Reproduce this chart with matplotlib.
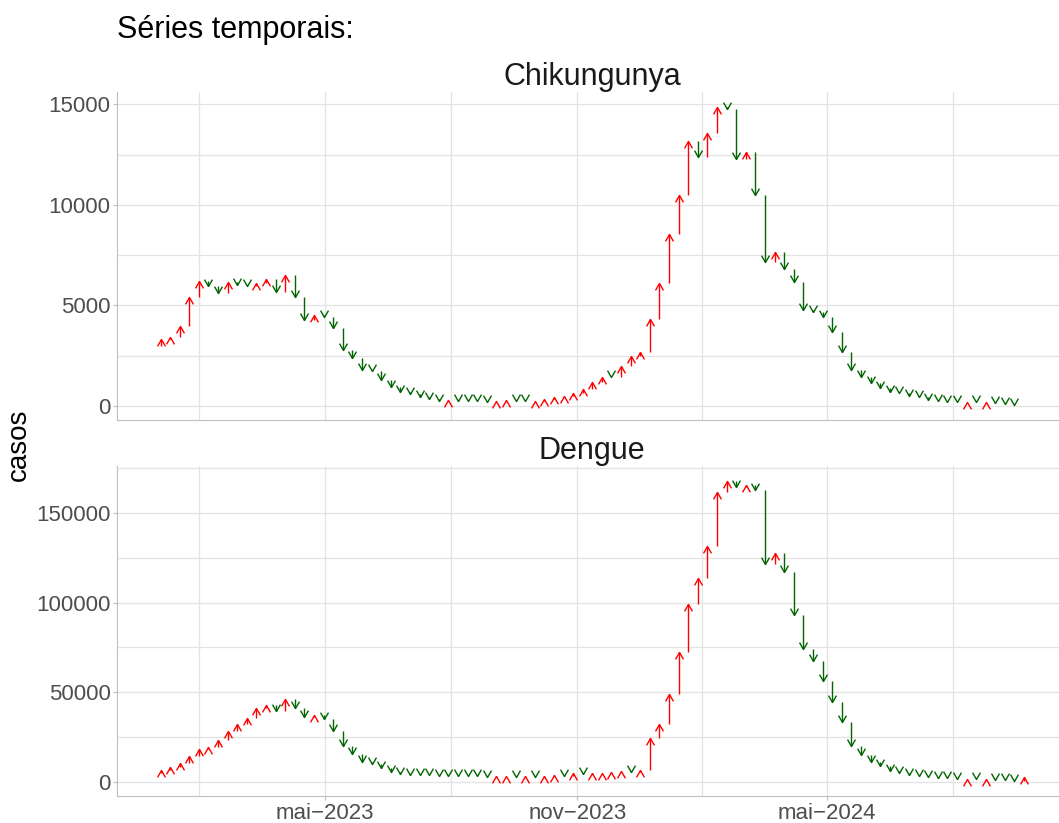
import numpy as np
import matplotlib
matplotlib.use("Agg")
import matplotlib.pyplot as plt
import matplotlib.dates as mdates
from matplotlib.path import Path

plt.rcParams['font.family'] = ['Liberation Sans', 'DejaVu Sans']

# semana inicial (o 1o valor so serve de ponto de partida da 1a seta)
start = np.datetime64('2022-12-25')

# casos semanais, em milhares
chik = np.array([
    3.00, 3.31, 3.41, 4.00, 5.43, 6.21, 5.98, 5.62, 6.18, 6.00,
    5.95, 6.10, 6.32, 5.65, 6.54, 5.40, 4.30, 4.55, 4.44, 3.86,
    2.78, 2.37, 1.80, 1.75, 1.29, 0.93, 0.68, 0.60, 0.47, 0.33,
    0.26, 0.28, 0.26, 0.24, 0.23, 0.22, 0.25, 0.29, 0.26, 0.23,
    0.27, 0.33, 0.43, 0.50, 0.67, 0.83, 1.22, 1.47, 1.43, 2.00,
    2.50, 2.70, 4.34, 6.13, 8.53, 10.51, 13.16, 12.38, 13.58, 14.87,
    14.78, 12.30, 12.63, 10.47, 7.17, 7.67, 6.80, 6.18, 4.77, 4.69,
    4.44, 3.69, 2.70, 1.79, 1.46, 1.13, 0.88, 0.69, 0.66, 0.49,
    0.46, 0.30, 0.25, 0.21, 0.19, 0.21, 0.19, 0.20, 0.13, 0.08,
    0.05]) * 1000

dengue = np.array([
    5.0, 6.2, 8.4, 10.3, 14.4, 18.1, 19.1, 23.0, 28.0, 32.3,
    35.5, 41.1, 42.6, 39.3, 46.4, 41.1, 36.1, 37.4, 35.0, 28.0,
    19.6, 15.3, 11.2, 9.7, 7.5, 5.2, 4.1, 3.8, 3.6, 3.4,
    3.3, 3.2, 3.1, 3.0, 2.9, 2.8, 2.9, 3.0, 2.8, 2.9,
    2.8, 3.0, 3.4, 3.3, 4.5, 4.4, 4.7, 5.0, 5.3, 5.8,
    5.6, 6.3, 24.3, 32.3, 49.2, 72.3, 99.1, 113.8, 131.8, 161.7,
    168.0, 164.8, 165.8, 162.8, 121.5, 127.5, 117.2, 92.9, 74.2, 67.3,
    56.3, 44.3, 33.5, 19.6, 14.8, 11.2, 8.6, 6.1, 4.7, 3.5,
    2.9, 2.5, 2.2, 1.9, 1.4, 1.6, 1.2, 1.4, 1.1, 0.7,
    0.3, 2.6]) * 1000

panels = ['Chikungunya', 'Dengue']
series = [chik, dengue]
y_breaks = [[0, 5000, 10000, 15000], [0, 50000, 100000, 150000]]
x_breaks = ['2023-05-01', '2023-11-01', '2024-05-01']
x_labels = ['mai\u22122023', 'nov\u22122023', 'mai\u22122024']

RED = '#FF0000'
GREEN = '#006400'
GRID = '#E3E3E3'
AXIS = '#BEBEBE'
TXT = '#4D4D4D'

UP = Path([(-0.5, -0.866), (0, 0), (0.5, -0.866)],
          [Path.MOVETO, Path.LINETO, Path.LINETO])
DOWN = Path([(-0.5, 0.866), (0, 0), (0.5, 0.866)],
            [Path.MOVETO, Path.LINETO, Path.LINETO])


def weeks(n):
    return start + np.arange(n) * np.timedelta64(7, 'D')


def draw_arrows(ax, vals):
    d = weeks(len(vals))[1:]
    prev, cur = vals[:-1], vals[1:]
    up = cur >= prev
    cols = np.where(up, RED, GREEN)
    ax.vlines(d, prev, cur, colors=cols, lw=1.0, capstyle='butt')
    ax.plot(d[up], cur[up], ls='none', marker=UP, ms=9.9,
            mfc='none', mec=RED, mew=1.0)
    ax.plot(d[~up], cur[~up], ls='none', marker=DOWN, ms=9.9,
            mfc='none', mec=GREEN, mew=1.0)


fig = plt.figure(figsize=(10.59, 8.23), dpi=100)

# eixo x comum: datas das setas + 5% de cada lado (como o ggplot)
all_dates = np.concatenate([weeks(len(v))[1:] for v in series])
x0 = mdates.date2num(all_dates.min())
x1 = mdates.date2num(all_dates.max())
xpad = 0.05 * (x1 - x0)
xlim = (x0 - xpad, x1 + xpad)

xb = mdates.date2num(np.array(x_breaks, dtype='datetime64[D]'))
xb_ext = np.concatenate([[xb[0] - (xb[1] - xb[0])], xb, [xb[-1] + 184]])
x_minor = (xb_ext[:-1] + xb_ext[1:]) / 2

positions = [[0.1108, 0.4897, 0.8970, 0.3985],
             [0.1108, 0.0328, 0.8970, 0.4010]]

for k, (name, vals) in enumerate(zip(panels, series)):
    ax = fig.add_axes(positions[k])
    draw_arrows(ax, vals)

    yb = np.array(y_breaks[k])
    step = yb[1] - yb[0]
    ax.set_yticks(yb)
    ax.set_yticklabels([str(v) for v in yb])
    ax.set_yticks(np.arange(yb[0] - step / 2, yb[-1] + step, step), minor=True)
    ax.set_xticks(xb)
    ax.set_xticks(x_minor, minor=True)
    ax.set_xticklabels(x_labels)

    # limites depois dos ticks (set_ticks alarga a vista)
    ax.set_xlim(*xlim)
    lo, hi = vals.min(), vals.max()
    ypad = 0.05 * (hi - lo)
    ax.set_ylim(lo - ypad, hi + ypad)

    ax.grid(True, which='both', color=GRID, lw=0.9)
    ax.set_axisbelow(True)
    for s in ['top', 'right']:
        ax.spines[s].set_visible(False)
    for s in ['left', 'bottom']:
        ax.spines[s].set_color(AXIS)
        ax.spines[s].set_linewidth(0.8)

    ax.tick_params(which='minor', length=0)
    ax.tick_params(which='major', length=2.6, width=0.8, color=AXIS,
                   labelsize=16, labelcolor=TXT, pad=2.2)
    if k == 0:
        ax.tick_params(axis='x', which='major', length=0, labelbottom=False)

    ax.set_title(name, fontsize=22, color='#1A1A1A', pad=4.8)

fig.text(0.1108, 1 - 38 / 823, 'Séries temporais:', fontsize=22,
         ha='left', va='baseline')
fig.text(19 / 1059, 1 - 445 / 823, 'casos', fontsize=20, rotation=90,
         ha='center', va='center')

fig.savefig('out.png', dpi=100)
